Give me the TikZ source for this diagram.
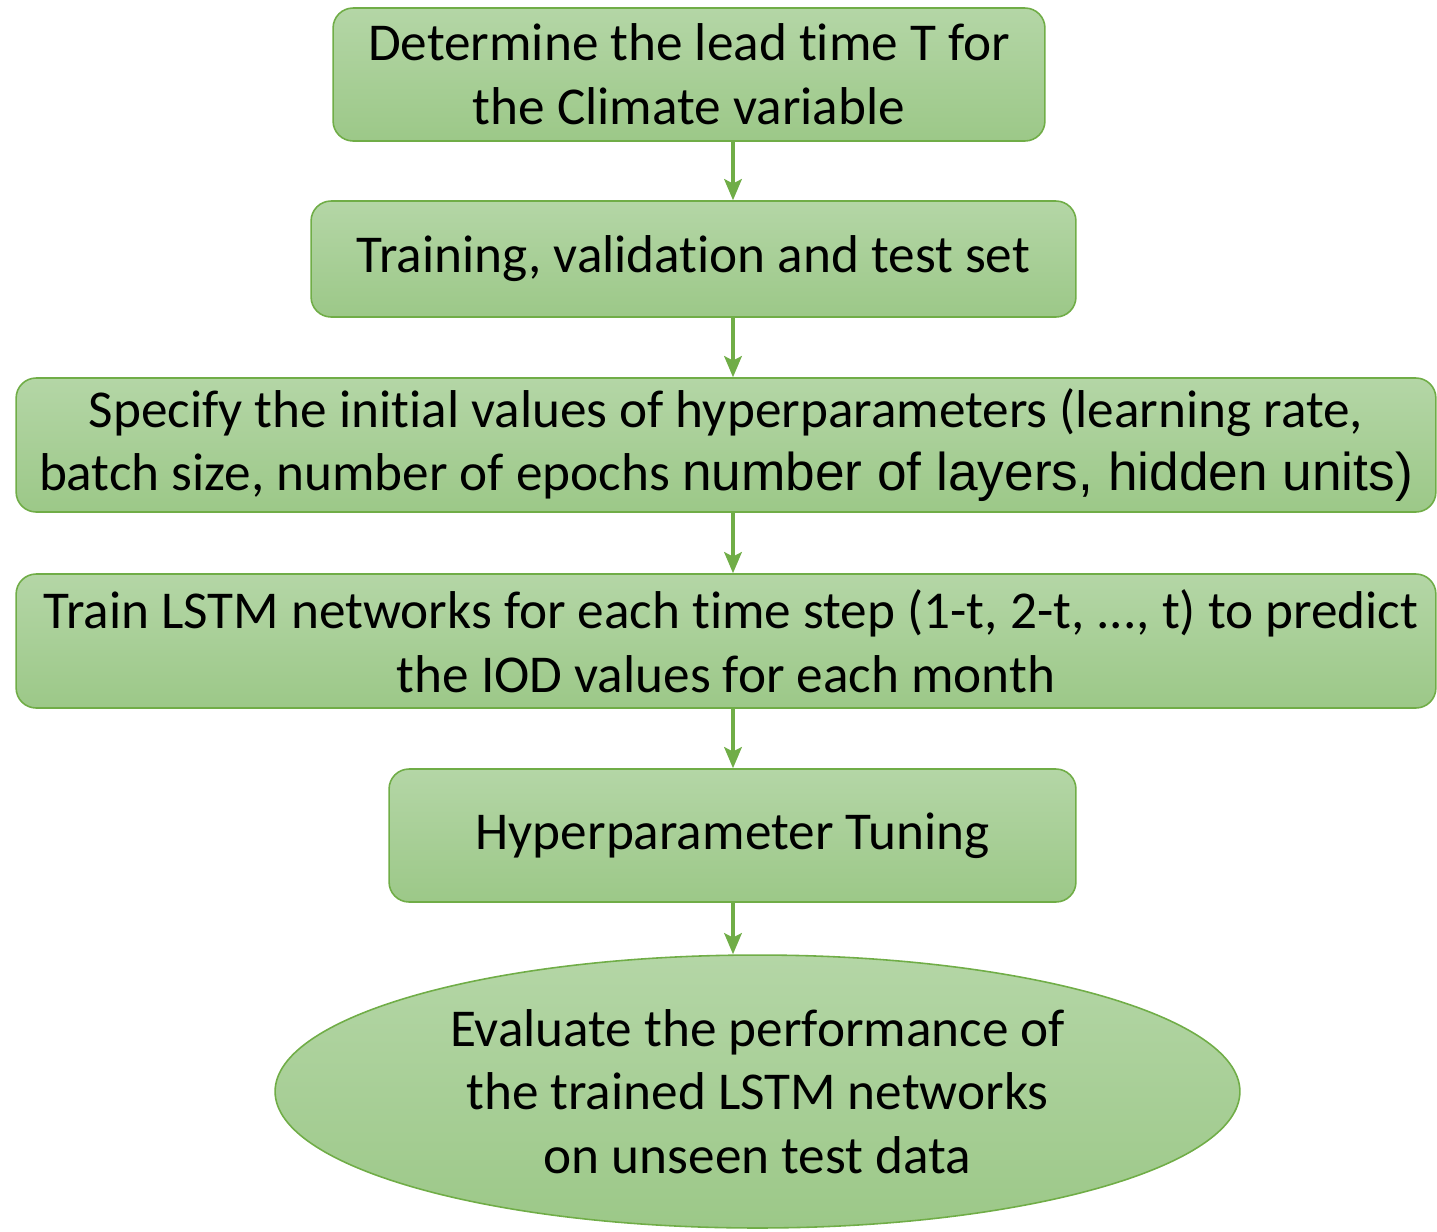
\documentclass[tikz,border=0pt]{standalone}
\usepackage{fontspec}
\setmainfont[Ligatures=NoCommon]{Carlito}
\newfontfamily\arialfont{Liberation Sans}
\usetikzlibrary{shapes.geometric, arrows.meta}

\definecolor{boxedge}{HTML}{70AD47}
\definecolor{boxtop}{HTML}{B4D6A6}
\definecolor{boxbot}{HTML}{9CC888}

\newcommand{\flowfont}{\fontsize{30.3}{36.3}\selectfont}

\tikzset{stepbox/.style={rectangle, rounded corners=0.4cm, draw=boxedge, line width=0.9pt, top color=boxtop, bottom color=boxbot, inner sep=0pt, align=center, font=\flowfont}}
\tikzset{endnode/.style={ellipse, draw=boxedge, line width=0.9pt, top color=boxtop, bottom color=boxbot, inner sep=0pt, align=center, font=\flowfont}}
\tikzset{flowarrow/.style={draw=boxedge, line width=2pt, -{Stealth[length=12pt, width=10pt, inset=2.5pt]}}}
\def \ax {733}

\begin{document}
\begin{tikzpicture}[x=0.02cm, y=-0.02cm]

    \useasboundingbox (0,0) rectangle (1437,1231);
    \coordinate (ax) at (\ax,0);

    \node[stepbox, minimum width=14.24cm, minimum height=2.66cm] (lead) at (689,74.5)
        {Determine the lead time T for\\the Climate variable};
    \node[stepbox, minimum width=15.3cm, minimum height=2.32cm] (sets) at (693.5,259)
        {Training, validation and test set};
    \node[stepbox, minimum width=28.4cm, minimum height=2.68cm] (hyper) at (726,445)
        {Specify the initial values of hyperparameters (learning rate,\\batch size, number of epochs {\arialfont number of layers, hidden units)}};
    \node[stepbox, minimum width=28.4cm, minimum height=2.68cm] (train) at (726,641)
        {\hspace*{0.2cm}Train LSTM networks for each time step (1-t, 2-t, ..., t) to predict\\the IOD values for each month};
    \node[stepbox, minimum width=13.74cm, minimum height=2.66cm] (tune) at (732.5,835.5)
        {Hyperparameter Tuning};
    \node[endnode, minimum width=19.3cm, minimum height=5.46cm] (eval) at (757.5,1091.5)
        {Evaluate the performance of\\the trained LSTM networks\\on unseen test data};

    % arrows
    \draw[flowarrow] (lead.south -| ax) -- (sets.north -| ax);
    \draw[flowarrow] (sets.south -| ax) -- (hyper.north -| ax);
    \draw[flowarrow] (hyper.south -| ax) -- (train.north -| ax);
    \draw[flowarrow] (train.south -| ax) -- (tune.north -| ax);
    \draw[flowarrow] (tune.south -| ax) -- (eval.north -| ax);

\end{tikzpicture}
\end{document}
